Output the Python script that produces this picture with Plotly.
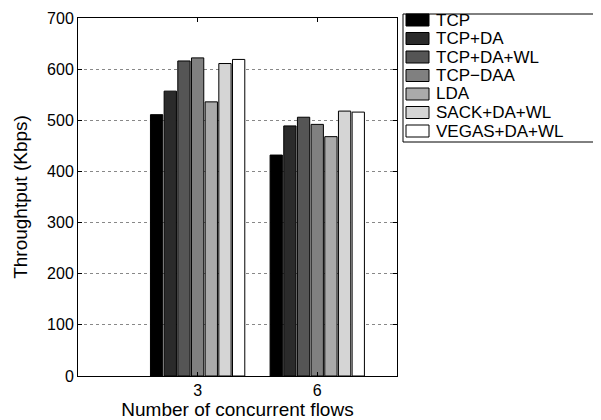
import plotly.graph_objects as go

W, H = 601, 420

flows = [3, 6]
series_names = ["TCP", "TCP+DA", "TCP+DA+WL", "TCP\u2212DAA", "LDA", "SACK+DA+WL", "VEGAS+DA+WL"]
tcp = [511, 432]
tcp_da = [557, 489]
tcp_da_wl = [616, 506]
tcp_daa = [622, 492]
lda = [536, 468]
sack_da_wl = [611, 518]
vegas_da_wl = [619, 516]
series_values = [tcp, tcp_da, tcp_da_wl, tcp_daa, lda, sack_da_wl, vegas_da_wl]
y_ticks = [0, 100, 200, 300, 400, 500, 600, 700]

gray_levels = ["#000000", "#2b2b2b", "#555555", "#808080", "#aaaaaa", "#d5d5d5", "#ffffff"]

FONT = "Liberation Sans, Arial, sans-serif"
FS = 16
LEG_FS = 17


def px_x(x):
    return x / W


def px_y(y):
    return 1 - y / H


# plot area in pixels
left, right, top, bottom = 70, 389, 10, 368

fig = go.Figure()
for name, vals, color in zip(series_names, series_values, gray_levels):
    fig.add_trace(
        go.Bar(
            x=flows,
            y=vals,
            name=name,
            marker=dict(color=color, line=dict(color="#000000", width=1)),
            showlegend=False,
        )
    )

# hand-made legend (wide swatches like the original)
legend_top, first_row, row_h = 6, 12, 18.5
shapes = [
    dict(
        type="rect", xref="paper", yref="paper",
        x0=px_x(395), x1=px_x(620),
        y0=px_y(first_row + row_h * 6 + 11), y1=px_y(legend_top),
        line=dict(color="#000000", width=1), fillcolor="#ffffff", layer="above",
    )
]
annotations = []
for i, (name, color) in enumerate(zip(series_names, gray_levels)):
    cy = first_row + row_h * i
    shapes.append(
        dict(
            type="rect", xref="paper", yref="paper",
            x0=px_x(398), x1=px_x(421), y0=px_y(cy + 6), y1=px_y(cy - 6),
            line=dict(color="#000000", width=1), fillcolor=color, layer="above",
        )
    )
    annotations.append(
        dict(
            x=px_x(426), y=px_y(cy), xref="paper", yref="paper",
            text=name, showarrow=False, xanchor="left", yanchor="middle",
            font=dict(family=FONT, size=LEG_FS, color="#000000"),
        )
    )

fig.update_layout(
    width=W,
    height=H,
    margin=dict(l=0, r=0, t=0, b=0),
    paper_bgcolor="#ffffff",
    plot_bgcolor="#ffffff",
    font=dict(family=FONT, size=FS, color="#000000"),
    barmode="group",
    bargap=0.2,
    bargroupgap=0.1,
    showlegend=False,
    shapes=shapes,
    annotations=annotations,
    xaxis=dict(
        domain=[px_x(left), px_x(right)],
        range=[0, 8],
        tickvals=flows,
        ticktext=[str(f) for f in flows],
        ticks="inside",
        ticklen=4,
        tickcolor="#000000",
        showline=True,
        linecolor="#000000",
        linewidth=1,
        mirror="ticks",
        showgrid=False,
        zeroline=False,
        automargin=False,
        title=dict(text="Number of concurrent flows", standoff=0),
    ),
    yaxis=dict(
        domain=[px_y(bottom), px_y(top)],
        range=[0, 700],
        tickvals=y_ticks,
        ticks="inside",
        ticklen=4,
        tickcolor="#000000",
        showline=True,
        linecolor="#000000",
        linewidth=1,
        mirror="ticks",
        showgrid=True,
        gridcolor="#888888",
        griddash="dot",
        gridwidth=1,
        zeroline=False,
        automargin=False,
        title=dict(text="Throughtput (Kbps)", standoff=14),
    ),
)

fig.write_html("out.html")
